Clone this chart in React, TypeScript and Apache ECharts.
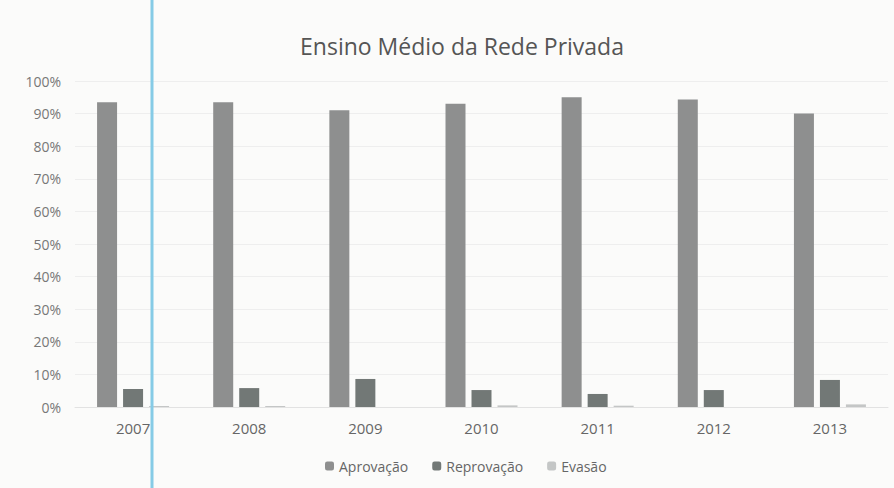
import React, { useEffect, useRef } from "react";
import * as echarts from "echarts";

const categories = ["2007", "2008", "2009", "2010", "2011", "2012", "2013"];
const aprovacao = [93.5, 93.5, 91.0, 93.0, 95.0, 94.3, 90.0];
const reprovacao = [5.5, 5.8, 8.6, 5.2, 4.0, 5.2, 8.3];
const evasao = [0.3, 0.3, 0.0, 0.5, 0.4, 0.0, 0.8];
const seriesNames = ["Aprovação", "Reprovação", "Evasão"];
const colors = ["#8e8f8f", "#727876", "#c4c6c6"];

export default function App() {
  const ref = useRef<HTMLDivElement>(null);
  useEffect(() => {
    if (!ref.current) return;
    const chart = echarts.init(ref.current, null, { renderer: "svg" });
    const font = "'Open Sans', 'DejaVu Sans', sans-serif";
    chart.setOption({
      animation: false,
      backgroundColor: "#fbfbfa",
      textStyle: { fontFamily: font },
      title: {
        text: "Ensino Médio da Rede Privada",
        left: 457,
        top: 29,
        textAlign: "center",
        textStyle: { fontSize: 23, fontWeight: "normal", color: "#555", fontFamily: font },
      },
      legend: {
        bottom: 10,
        left: 320,
        itemWidth: 9,
        itemHeight: 9,
        itemGap: 24,
        textStyle: { fontSize: 14, color: "#666", fontFamily: font },
        data: seriesNames,
      },
      grid: { left: 75, right: 6, top: 81, bottom: 81, containLabel: false },
      xAxis: {
        type: "category",
        data: categories,
        axisLine: { show: true, lineStyle: { color: "#e2e2e2" } },
        axisTick: { show: false },
        axisLabel: { fontSize: 15, color: "#666", margin: 13 },
      },
      yAxis: {
        type: "value",
        min: 0,
        max: 100,
        interval: 10,
        axisLabel: { formatter: "{value}%", fontSize: 14, color: "#777", margin: 14 },
        axisLine: { show: false },
        axisTick: { show: false },
        splitLine: { lineStyle: { color: "#eeeeee" } },
      },
      series: [aprovacao, reprovacao, evasao].map((d, i) => ({
        name: seriesNames[i],
        type: "bar",
        data: d,
        barWidth: 20,
        barGap: "30%",
        itemStyle: { color: colors[i] },
      })),
      graphic: [
        {
          type: "line",
          shape: { x1: 152, y1: 0, x2: 152, y2: 488 },
          style: { stroke: "#86cbe6", lineWidth: 3 },
          z: 100,
        },
      ],
    });
    return () => chart.dispose();
  }, []);
  return <div ref={ref} style={{ width: 894, height: 488, position: "absolute", left: 0, top: 0 }} />;
}
